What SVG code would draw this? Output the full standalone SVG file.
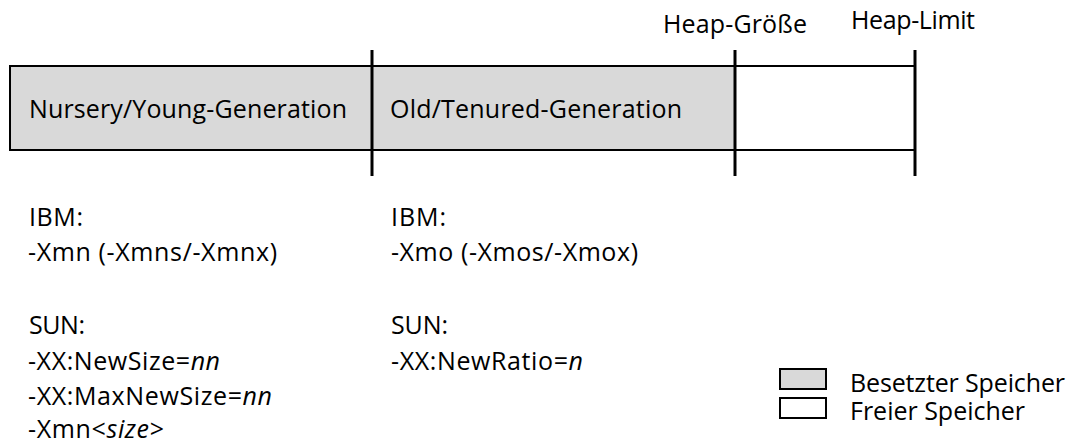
<svg xmlns="http://www.w3.org/2000/svg" width="1075" height="439" viewBox="0 0 1075 439">
<style>
text{font-family:"Open Sans","Noto Sans",sans-serif;font-size:25px;fill:#000}
.i{font-style:italic}
.box{stroke:#000;stroke-width:2}
.tick{stroke:#000;stroke-width:3}
</style>
<rect width="1075" height="439" fill="#fff"/>
<g id="young">
<rect class="box" x="10" y="66" width="362" height="84" fill="#d9d9d9"/>
<text x="29" y="118" textLength="318">Nursery/Young-Generation</text>
</g>
<g id="old">
<rect class="box" x="372" y="66" width="363" height="84" fill="#d9d9d9"/>
<text x="390" y="118" textLength="292">Old/Tenured-Generation</text>
</g>
<g id="free">
<rect class="box" x="735" y="66" width="180" height="84" fill="#fff"/>
</g>
<g id="connectors">
<line class="tick" x1="372" y1="50" x2="372" y2="176"/>
<line class="tick" x1="735" y1="50" x2="735" y2="176"/>
<line class="tick" x1="915" y1="50" x2="915" y2="176"/>
</g>
<g id="markers">
<text x="663" y="33" textLength="144">Heap-Größe</text>
<text x="851" y="29" textLength="124">Heap-Limit</text>
</g>
<g id="young-opts">
<text x="29" y="226" textLength="54">IBM:</text>
<text x="28" y="261" textLength="249">-Xmn (-Xmns/-Xmnx)</text>
<text x="29" y="334" textLength="56">SUN:</text>
<text x="28" y="370" textLength="192">-XX:NewSize=<tspan class="i">nn</tspan></text>
<text x="28" y="405" textLength="244">-XX:MaxNewSize=<tspan class="i">nn</tspan></text>
<text x="28" y="438" textLength="136">-Xmn&lt;<tspan class="i">size</tspan>&gt;</text>
</g>
<g id="old-opts">
<text x="391" y="226" textLength="55">IBM:</text>
<text x="391" y="261" textLength="247">-Xmo (-Xmos/-Xmox)</text>
<text x="391" y="334" textLength="57">SUN:</text>
<text x="391" y="370" textLength="192">-XX:NewRatio=<tspan class="i">n</tspan></text>
</g>
<g id="legend-used">
<rect class="box" x="780" y="369" width="46" height="20" fill="#d9d9d9"/>
<text x="850" y="392" textLength="215">Besetzter Speicher</text>
</g>
<g id="legend-free">
<rect class="box" x="780" y="398" width="46" height="20" fill="#fff"/>
<text x="850" y="420" textLength="175">Freier Speicher</text>
</g>
</svg>
